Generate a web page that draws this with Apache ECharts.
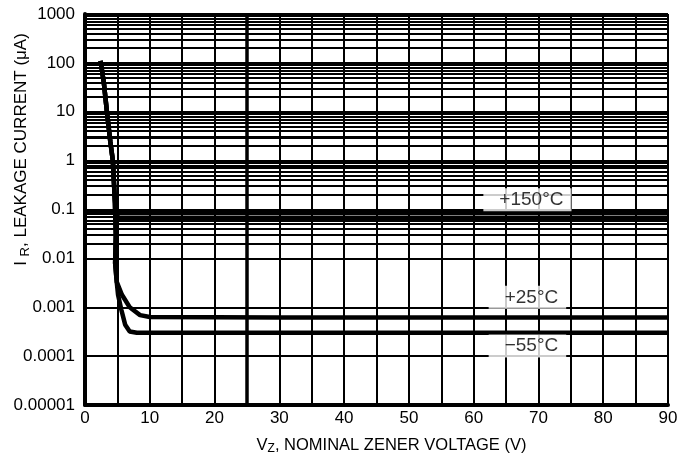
<!DOCTYPE html>
<html>
<head>
<meta charset="utf-8">
<script src="https://cdn.jsdelivr.net/npm/echarts@6/dist/echarts.min.js"></script>
<style>
html,body{margin:0;padding:0;background:#fff;}
#c{width:685px;height:465px;}
</style>
</head>
<body>
<div id="c"></div>
<script>
// ---- data ----
const yTickExps = [-5, -4, -3, -2, -1, 0, 1, 2, 3];
const yTickLabels = ['0.00001', '0.0001', '0.001', '0.01', '0.1', '1', '10', '100', '1000'];
const minorMultipliers = [2, 3, 4, 5, 6, 7, 8, 9];

const curve150 = [[2.4,110],[2.9,40],[3.4,9.5],[3.9,2.5],[4.3,1],[4.6,0.16],[4.85,0.085],[5.1,0.068],[10,0.068],[30,0.068],[60,0.068],[90,0.068]];
const curve25  = [[2.4,110],[2.9,40],[3.4,9.5],[3.9,2.5],[4.3,1],[4.6,0.16],[4.75,0.03],[4.65,0.008],[4.9,0.0033],[5.7,0.0018],[6.9,0.001],[8.5,0.00069],[10,0.00063],[30,0.00062],[60,0.00062],[90,0.00062]];
const curve55  = [[2.4,110],[2.9,40],[3.4,9.5],[3.9,2.5],[4.3,1],[4.6,0.16],[4.75,0.03],[4.65,0.008],[4.9,0.0033],[5.1,0.0018],[5.6,0.0009],[6.2,0.00044],[6.9,0.00032],[8,0.0003],[30,0.0003],[60,0.0003],[90,0.0003]];

const tempLabels = ['+150°C', '+25°C', '\u221255°C'];
const tempAnchors = [[68.3, 0.158], [68.3, 0.0016], [68.3, 0.000162]];

// ---- build ----
const minorVals = [];
for (let e = yTickExps[0]; e < yTickExps[yTickExps.length - 1]; e++) {
  minorMultipliers.forEach(k => minorVals.push(+(k * Math.pow(10, e)).toPrecision(6)));
}
const gridLine = {color: '#000', width: 2, type: 'solid'};
const FONT = 'Liberation Sans';

const chart = echarts.init(document.getElementById('c'));
chart.setOption({
  animation: false,
  backgroundColor: '#fff',
  grid: {left: 85, right: 17, top: 14, bottom: 60, containLabel: false, outerBoundsMode: 'none'},
  xAxis: {
    type: 'value', min: 0, max: 90, interval: 10,
    axisLine: {show: true, onZero: false, lineStyle: {color: '#000', width: 4}},
    axisTick: {show: false},
    minorTick: {show: false, splitNumber: 2},
    splitLine: {show: true, lineStyle: gridLine},
    minorSplitLine: {show: true, lineStyle: gridLine},
    axisLabel: {color: '#000', fontFamily: FONT, fontSize: 17, margin: 5},
    name: '{a|V}{b|Z}{a|, NOMINAL ZENER VOLTAGE (V)}',
    nameLocation: 'middle', nameGap: 29, nameMoveOverlap: false,
    nameTextStyle: {
      padding: [0, 0, 0, 30],
      rich: {
        a: {fontFamily: FONT, fontSize: 16.5, color: '#000', lineHeight: 22},
        b: {fontFamily: FONT, fontSize: 12, color: '#000', lineHeight: 22, padding: [8, 0, 0, 0]}
      }
    }
  },
  yAxis: {
    type: 'log', logBase: 10, min: 0.00001, max: 1000, interval: 1,
    axisLine: {show: true, lineStyle: {color: '#000', width: 4}},
    axisTick: {show: false},
    splitLine: {show: true, lineStyle: gridLine},
    axisLabel: {
      color: '#000', fontFamily: FONT, fontSize: 17, margin: 10,
      formatter: v => {
        const i = yTickExps.indexOf(Math.round(Math.log10(v)));
        return i >= 0 ? yTickLabels[i] : '';
      }
    },
    name: '{a|I }{b|R}{a|, LEAKAGE CURRENT (μA)}',
    nameLocation: 'middle', nameGap: 53, nameRotate: 90, nameMoveOverlap: false,
    nameTextStyle: {
      padding: [0, 0, 0, 120],
      rich: {
        a: {fontFamily: FONT, fontSize: 17, color: '#000', lineHeight: 22},
        b: {fontFamily: FONT, fontSize: 13, color: '#000', lineHeight: 22, padding: [8, 0, 0, 0]}
      }
    }
  },
  series: [
    {
      type: 'line', data: [], z: 1, silent: true,
      markLine: {
        silent: true, symbol: ['none', 'none'], label: {show: false},
        lineStyle: gridLine, animation: false,
        data: minorVals.map(v => ({yAxis: v}))
          .concat([{yAxis: 3, lineStyle: {color: '#000', width: 3, type: 'solid'}},
                   {xAxis: 25, lineStyle: {color: '#000', width: 3.5, type: 'solid'}}])
      }
    },
    {type: 'line', data: curve150, z: 3, symbol: 'none', lineStyle: {color: '#000', width: 4.5}},
    {type: 'line', data: curve25, z: 3, symbol: 'none', lineStyle: {color: '#000', width: 4.5}},
    {type: 'line', data: curve55, z: 3, symbol: 'none', lineStyle: {color: '#000', width: 4.5}},
    {
      type: 'scatter', z: 5, symbolSize: 0, silent: true,
      data: tempAnchors.map((p, i) => ({value: p, name: tempLabels[i]})),
      label: {
        show: true, position: 'inside', formatter: p => p.name,
        color: '#000', fontFamily: FONT, fontSize: 19,
        backgroundColor: '#fff', padding: [2, 8, 1, 16], lineHeight: 20
      }
    }
  ]
});
</script>
</body>
</html>
